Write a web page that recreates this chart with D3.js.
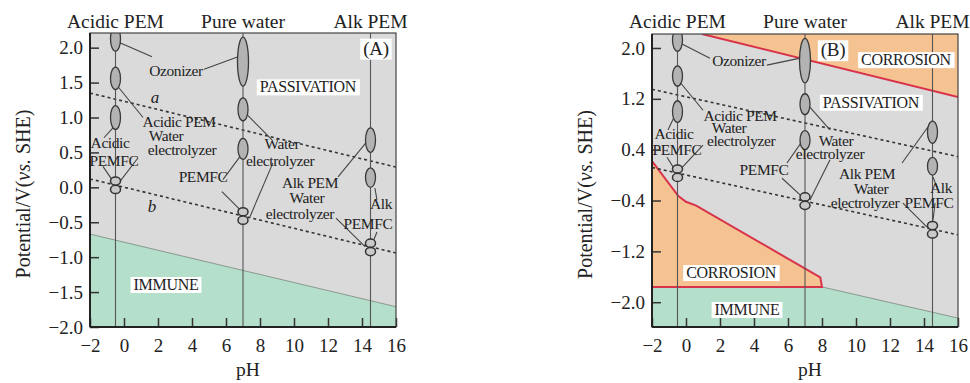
<!DOCTYPE html>
<html>
<head>
<meta charset="utf-8">
<script src="https://cdn.jsdelivr.net/npm/d3@7"></script>
<style>
  body { margin: 0; background: #fff; }
  text { font-family: "Liberation Serif", "Times New Roman", serif; fill: #222; }
</style>
</head>
<body>
<div id="chart"></div>
<script>
var svgWidth = 970;
var svgHeight = 383;

// data
var phTicks = [-2, 0, 2, 4, 6, 8, 10, 12, 14, 16];
var potTicksA = [2.0, 1.5, 1.0, 0.5, 0.0, -0.5, -1.0, -1.5, -2.0];
var potTicksB = [2.0, 1.2, 0.4, -0.4, -1.2, -2.0];
var columnPH = [-0.5, 7, 14.5];
var columnNames = ["Acidic PEM", "Pure water", "Alk PEM"];

// water stability lines a (O2) and b (H2)
var lineA = [[-2, 1.35], [16, 0.29]];
var lineB = [[-2, 0.12], [16, -0.94]];

// boundaries
var immuneA = [[-2, -0.67], [16, -1.71]];
var immuneB = [[-2, -1.76], [8, -1.76], [16, -2.25]];
var corrosionTopB = [[0.94, 2.22], [16, 1.23]];
var corrosionLowB = [[-2, 0.22], [-0.45, -0.33], [0, -0.42], [0.6, -0.48], [7.9, -1.61], [8, -1.76], [-2, -1.76]];

// operating windows: [pH, E low, E high]
var ellipses = [
  [-0.5, 1.95, 2.3], [-0.5, 1.4, 1.72], [-0.5, 0.83, 1.17],
  [7, 1.45, 2.15], [7, 0.95, 1.28], [7, 0.4, 0.7],
  [14.5, 0.5, 0.85], [14.5, 0.0, 0.28]
];
// hydrogen electrode markers
var h2PH = [-0.5, 7, 14.5];
var h2E = [0.03, -0.41, -0.86];

// annotation text [text, pH, E]
var labelsA = [
  ["Ozonizer", 3.06, 1.60], ["Acidic PEM", 3.24, 0.87], ["Water", 2.47, 0.67], ["electrolyzer", 3.41, 0.47],
  ["Acidic", -0.82, 0.57], ["PEMFC", -0.59, 0.31], ["PEMFC", 4.65, 0.07],
  ["Water", 9.29, 0.55], ["electrolyzer", 9.18, 0.31],
  ["Alk PEM", 10.94, -0.01], ["Water", 10.76, -0.23], ["electrolyzer", 10.35, -0.45],
  ["Alk", 15.12, -0.31], ["PEMFC", 14.35, -0.59]
];
var labelsB = [
  ["Ozonizer", 3.12, 1.72], ["Acidic PEM", 3.18, 0.85], ["Water", 2.53, 0.66], ["electrolyzer", 3.24, 0.46],
  ["Acidic", -0.71, 0.57], ["PEMFC", -0.53, 0.31], ["PEMFC", 4.59, 0.0],
  ["Water", 8.82, 0.46], ["electrolyzer", 8.47, 0.25],
  ["Alk PEM", 10.65, -0.06], ["Water", 10.88, -0.30], ["electrolyzer", 10.53, -0.52],
  ["Alk", 15.0, -0.28], ["PEMFC", 14.29, -0.52]
];
var boxesA = [["PASSIVATION", 10.82, 1.36], ["(A)", 14.82, 1.90], ["IMMUNE", 2.47, -1.47]];
var boxesB = [["(B)", 8.65, 1.87], ["CORROSION", 12.94, 1.73], ["PASSIVATION", 10.88, 1.06],
  ["CORROSION", 2.65, -1.62], ["IMMUNE", 3.59, -2.2]];
var lineNamesA = [["a", 1.82, 1.21], ["b", 1.65, -0.36]];

// leader lines [pH1, E1, pH2, E2]
var leadersA = [
  [-0.24, 2.07, 1.65, 1.87], [4.71, 1.69, 6.71, 1.87], [-0.35, 1.44, 1.12, 1.0],
  [-0.35, 0.05, 0.82, 0.42], [-0.65, 0.85, -1.18, 0.71], [-1.24, 0.30, -0.71, 0.11],
  [6.82, 0.44, 5.82, 0.11], [5.76, -0.06, 6.82, -0.32], [7.24, 1.04, 8.71, 0.68],
  [8.76, 0.35, 7.41, -0.42], [14.24, 0.64, 12.59, 0.15], [12.47, -0.44, 14.18, -0.85],
  [14.76, -0.01, 14.88, -0.18], [14.88, -0.64, 14.65, -0.78]
];
var leadersB = [
  [-0.35, 2.08, 1.41, 1.84], [4.76, 1.73, 6.71, 1.84], [-0.47, 1.50, 1.0, 1.02],
  [-0.47, 0.05, 1.0, 0.47], [-0.65, 0.94, -1.06, 0.71], [-1.12, 0.28, -0.76, 0.13],
  [6.88, 0.55, 5.94, 0.19], [5.65, -0.05, 6.71, -0.31], [7.18, 1.10, 8.47, 0.71],
  [8.47, 0.24, 7.29, -0.39], [14.24, 0.76, 12.71, 0.19], [12.76, -0.44, 14.18, -0.82],
  [14.53, -0.03, 14.76, -0.19], [14.65, -0.44, 14.53, -0.71]
];

var svg = d3.select("#chart")
  .append("svg")
  .attr("width", svgWidth)
  .attr("height", svgHeight);

function drawPanel(p) {
  var x = d3.scaleLinear().domain([-2, 16]).range(p.xRange);
  var y = d3.scaleLinear().domain(p.yDomain).range(p.yRange);
  var x0 = p.xRange[0], x1 = p.xRange[1], yb = p.yRange[0], yt = p.yRange[1];
  var yMin = p.yDomain[0], yMax = p.yDomain[1];
  var line = d3.line().x(d => x(d[0])).y(d => y(d[1]));

  var g = svg.append("g");
  g.append("clipPath").attr("id", "clip" + p.id)
    .append("rect").attr("x", x0).attr("y", yt).attr("width", x1 - x0).attr("height", yb - yt);
  var plot = g.append("g").attr("clip-path", "url(#clip" + p.id + ")");

  // passivation background
  plot.append("rect").attr("x", x0).attr("y", yt).attr("width", x1 - x0).attr("height", yb - yt)
    .attr("fill", "#dadada");

  // immune region
  var imm = p.immune.concat([[16, yMin], [-2, yMin]]);
  plot.append("path").attr("d", line(imm) + "Z").attr("fill", "#b4dfca");
  plot.append("path").attr("d", line(p.immune)).attr("fill", "none").attr("stroke", "#8a9990").attr("stroke-width", 1);

  if (p.corrosion) {
    var top = [[corrosionTopB[0][0], yMax]].concat(corrosionTopB).concat([[16, yMax]]);
    plot.append("path").attr("d", line(top) + "Z").attr("fill", "#f5c291");
    plot.append("path").attr("d", line(corrosionLowB) + "Z").attr("fill", "#f5c291");
    plot.append("path").attr("d", line(corrosionTopB)).attr("fill", "none")
      .attr("stroke", "#d8334a").attr("stroke-width", 2);
    plot.append("path").attr("d", line(corrosionLowB)).attr("fill", "none")
      .attr("stroke", "#d8334a").attr("stroke-width", 2);
  }

  // water lines
  [lineA, lineB].forEach(function(l) {
    plot.append("path").attr("d", line(l)).attr("fill", "none")
      .attr("stroke", "#333").attr("stroke-width", 1.6).attr("stroke-dasharray", "3,3");
  });

  // device columns
  plot.selectAll("line.col").data(columnPH).enter().append("line")
    .attr("x1", d => x(d)).attr("x2", d => x(d))
    .attr("y1", yt).attr("y2", yb)
    .attr("stroke", "#555").attr("stroke-width", 1.1);

  // leader lines
  plot.selectAll("line.lead").data(p.leaders).enter().append("line")
    .attr("x1", d => x(d[0])).attr("y1", d => y(d[1]))
    .attr("x2", d => x(d[2])).attr("y2", d => y(d[3]))
    .attr("stroke", "#444").attr("stroke-width", 1.1);

  // operating window ellipses
  plot.selectAll("ellipse.win").data(ellipses).enter().append("ellipse")
    .attr("cx", d => x(d[0]))
    .attr("cy", d => (y(d[1]) + y(d[2])) / 2)
    .attr("rx", d => (d[2] - d[1]) > 0.5 ? 5.5 : 5)
    .attr("ry", d => (y(d[1]) - y(d[2])) / 2)
    .attr("fill", "#b3b3b3").attr("stroke", "#3a3a3a").attr("stroke-width", 1.3);

  // H2 markers drawn as two stacked rings
  h2PH.forEach(function(ph, i) {
    [-4.2, 4.2].forEach(function(off) {
      plot.append("ellipse")
        .attr("cx", x(ph)).attr("cy", y(h2E[i]) + off)
        .attr("rx", 5).attr("ry", 4.1)
        .attr("fill", "#c9c9c9").attr("stroke", "#333").attr("stroke-width", 1.5);
    });
  });

  // annotation text
  plot.selectAll("text.lab").data(p.labels).enter().append("text")
    .attr("x", d => x(d[1])).attr("y", d => y(d[2]))
    .attr("text-anchor", "middle")
    .attr("font-size", "15.5px")
    .attr("letter-spacing", "-0.4px")
    .attr("fill", "#333")
    .text(d => d[0]);

  if (p.lineNames) {
    plot.selectAll("text.ln").data(p.lineNames).enter().append("text")
      .attr("x", d => x(d[1])).attr("y", d => y(d[2]))
      .attr("text-anchor", "middle")
      .attr("font-size", "17px").attr("font-style", "italic")
      .attr("fill", "#333")
      .text(d => d[0]);
  }

  // boxed region names
  p.boxes.forEach(function(b) {
    var t = plot.append("text")
      .attr("x", x(b[1])).attr("y", y(b[2]))
      .attr("text-anchor", "middle")
      .attr("font-size", b[0].charAt(0) === "(" ? "19px" : "16px")
      .attr("letter-spacing", "-0.3px")
      .attr("fill", "#333")
      .text(b[0]);
    var bb = t.node().getBBox();
    plot.insert("rect", function() { return t.node(); })
      .attr("x", bb.x - 3).attr("y", bb.y + 1)
      .attr("width", bb.width + 6).attr("height", bb.height - 1)
      .attr("fill", "#fff");
  });

  // axes
  var fmtY = d3.format(".1f");
  var leftAxis = d3.axisLeft(y).tickValues(p.potTicks).tickSize(-9).tickPadding(7).tickFormat(fmtY);
  var bottomAxis = d3.axisBottom(x).tickValues(phTicks).tickSize(-9).tickPadding(12).tickFormat(d3.format("d"));

  var ya = g.append("g").attr("transform", `translate(${x0},0)`).call(leftAxis);
  var xa = g.append("g").attr("transform", `translate(0,${yb})`).call(bottomAxis);
  [ya, xa].forEach(function(a) {
    a.select(".domain").remove();
    a.selectAll("line").attr("stroke", "#333").attr("stroke-width", 1.5);
    a.selectAll("text").attr("font-size", "19px").attr("fill", "#222")
      .style("font-family", "'Liberation Serif', serif");
  });

  // frame
  g.append("rect").attr("x", x0).attr("y", yt).attr("width", x1 - x0).attr("height", yb - yt)
    .attr("fill", "none").attr("stroke", "#444").attr("stroke-width", 1.2);
  g.append("line").attr("x1", x0).attr("x2", x0).attr("y1", yt).attr("y2", yb)
    .attr("stroke", "#222").attr("stroke-width", 2);
  g.append("line").attr("x1", x0).attr("x2", x1).attr("y1", yb).attr("y2", yb)
    .attr("stroke", "#222").attr("stroke-width", 2);

  // column headings
  g.selectAll("text.head").data(columnNames).enter().append("text")
    .attr("x", (d, i) => x(columnPH[i]))
    .attr("y", 28)
    .attr("text-anchor", "middle")
    .attr("font-size", "19.5px")
    .text(d => d);

  // axis titles
  g.append("text")
    .attr("x", (x0 + x1) / 2 + 5).attr("y", 376)
    .attr("text-anchor", "middle").attr("font-size", "19.5px")
    .text("pH");

  var yt2 = g.append("text")
    .attr("transform", `translate(${p.titleX},${(yt + yb) / 2 + 14}) rotate(-90)`)
    .attr("text-anchor", "middle").attr("font-size", "20px");
  yt2.append("tspan").text("Potential/V(");
  yt2.append("tspan").attr("font-style", "italic").text("vs.");
  yt2.append("tspan").text(" SHE)");
}

drawPanel({
  id: "A", xRange: [90, 396], yRange: [327, 33], yDomain: [-2.0, 2.21],
  potTicks: potTicksA, immune: immuneA, corrosion: false,
  labels: labelsA, boxes: boxesA, leaders: leadersA, lineNames: lineNamesA, titleX: 30
});

drawPanel({
  id: "B", xRange: [652, 958], yRange: [327, 34], yDomain: [-2.39, 2.22],
  potTicks: potTicksB, immune: immuneB, corrosion: true,
  labels: labelsB, boxes: boxesB, leaders: leadersB, lineNames: null, titleX: 592
});
</script>
</body>
</html>
